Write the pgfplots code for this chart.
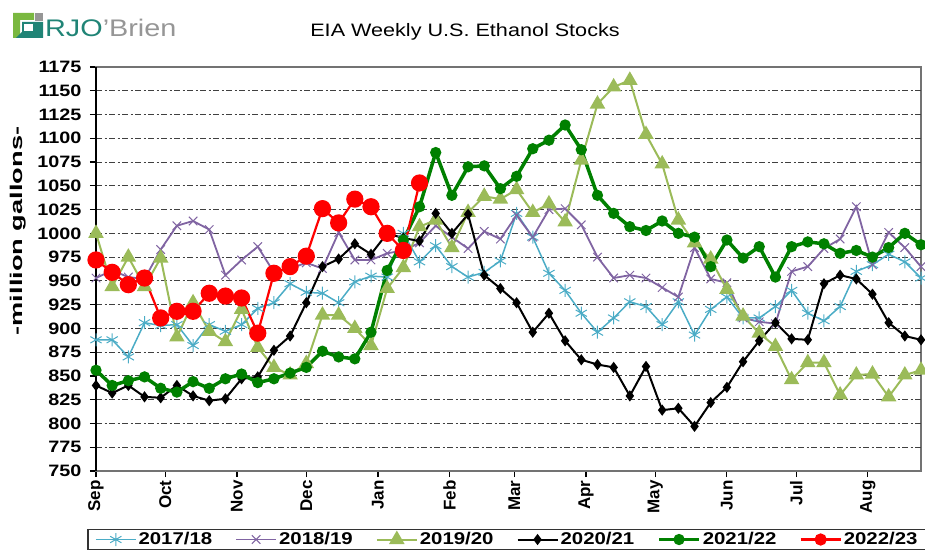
\documentclass[border=0pt]{standalone}
\usepackage{pgfplots}
\pgfplotsset{compat=1.18}
\usepackage{fontspec}
\setmainfont[FakeStretch=1.2]{Liberation Sans}
\newfontfamily\rotfont{Liberation Sans}
\newfontfamily\ylabfont[FakeStretch=1.6]{Liberation Sans}
\definecolor{cteal}{RGB}{75,172,198}
\definecolor{cpurple}{RGB}{128,100,162}
\definecolor{colive}{RGB}{155,187,89}
\definecolor{cgreen}{RGB}{0,128,0}
\definecolor{logogreen}{RGB}{122,184,64}
\definecolor{logoteal}{RGB}{32,132,118}
\definecolor{logogray}{RGB}{150,150,150}
\begin{document}
\begin{tikzpicture}[x=1pt,y=1pt]
\path[use as bounding box] (0,0) rectangle (925,551);
% logo
\fill[logogreen] (13,538) -- (34,538) -- (34,531) -- (20,531) -- (20,513) -- (13,513) -- cycle;
\fill[logogray] (35,538) rectangle (43,530);
\fill[logoteal] (22,529) -- (43,529) -- (43,513) -- (16,513) -- (22,519) -- cycle;
\fill[white] (24,527) rectangle (33,520);
\node[anchor=west, inner sep=0, font=\fontsize{24}{26}\selectfont] at (45,523) {\textcolor{logoteal}{RJO}\textcolor{logogray}{'Brien}};
% title
\node[font=\fontsize{18}{20}\selectfont] at (465,519) {EIA Weekly U.S. Ethanol Stocks};
% y label
\node[rotate=90, font=\ylabfont\bfseries\fontsize{17}{20}\selectfont] at (18,320) {-million gallons-};
\begin{axis}[
  at={(96pt,80pt)}, anchor=south west,
  scale only axis, width=825pt, height=404pt,
  xmin=0, xmax=51, ymin=750, ymax=1175,
  clip=false,
  axis line style={draw=black!55, line width=1.2pt},
  tick align=outside, major tick length=6pt,
  xtick pos=left, ytick pos=left,
  tick style={black, line width=1.2pt},
  ytick={750,775,...,1175},
  extra y ticks={775,800,...,1150},
  extra y tick labels={},
  extra y tick style={grid=major, major tick length=0pt},
  grid style={black!75, line width=1.1pt, dash pattern=on 6pt off 2.5pt on 2pt off 2.5pt},
  xtick={0,4.2857,8.7143,13,17.4286,21.8571,25.8571,30.2857,34.5714,39,43.2857,47.7143},
  xticklabels={Sep,Oct,Nov,Dec,Jan,Feb,Mar,Apr,May,Jun,Jul,Aug},
  xticklabel style={rotate=90, anchor=east, font=\rotfont\bfseries\fontsize{17}{20}\selectfont},
  yticklabel style={font=\bfseries\fontsize{16.5}{18}\selectfont, xshift=-5pt},
  /pgf/number format/assume math mode=true,
  /pgf/number format/1000 sep={},
  legend columns=6,
  legend style={at={(0.4985,-0.1696)}, anchor=center, draw=black!80, line width=1.2pt,
    font=\bfseries\fontsize{17}{19}\selectfont,
    /tikz/every even column/.append style={column sep=21pt},
    inner xsep=7pt, inner ysep=1pt},
  legend image code/.code={\draw[mark repeat=2,mark phase=2] plot coordinates {(0pt,0pt)(20pt,0pt)(40pt,0pt)};},
]
\draw[black, line width=1.4pt] (rel axis cs:0,0) -- (rel axis cs:0,1);
\addplot[color=cteal, line width=1.5pt, mark=asterisk, mark size=6.5pt, mark options={line width=1pt}] coordinates {
(0,888)(1,888)(2,870)(3,906)(4,903)(5,904)(6,882)(7,904)(8,897)(9,904)
(10,921)(11,927)(12,947)(13,938)(14,937)(15,927)(16,949)(17,955)(18,954)(19,1000)
(20,970)(21,987)(22,965)(23,954)(24,959)(25,971)(26,1021)(27,996)(28,958)(29,940)
(30,916)(31,896)(32,911)(33,928)(34,923)(35,904)(36,928)(37,893)(38,920)(39,933)
(40,911)(41,911)(42,923)(43,940)(44,916)(45,908)(46,923)(47,960)(48,967)(49,978)
(50,970)(51,953)};
\addlegendentry{2017/18}
\addplot[color=cpurple, line width=1.8pt, mark=x, mark size=6pt, mark options={line width=1pt}] coordinates {
(0,953)(1,961)(2,954)(3,952)(4,983)(5,1008)(6,1013)(7,1004)(8,956)(9,972)
(10,986)(11,959)(12,963)(13,969)(14,963)(15,1001)(16,972)(17,972)(18,979)(19,982)
(20,990)(21,1008)(22,996)(23,984)(24,1002)(25,994)(26,1019)(27,996)(28,1025)(29,1026)
(30,1009)(31,975)(32,953)(33,956)(34,953)(35,943)(36,933)(37,985)(38,952)(39,948)
(40,911)(41,907)(42,905)(43,960)(44,965)(45,984)(46,994)(47,1028)(48,967)(49,1001)
(50,985)(51,965)};
\addlegendentry{2018/19}
\addplot[color=colive, line width=2pt, mark=triangle*, mark size=7pt, mark options={fill=colive}] coordinates {
(0,1000)(1,944)(2,975)(3,944)(4,974)(5,891)(6,927)(7,897)(8,886)(9,920)
(10,880)(11,859)(12,851)(13,863)(14,914)(15,914)(16,900)(17,882)(18,942)(19,964)
(20,1007)(21,1014)(22,985)(23,1022)(24,1039)(25,1036)(26,1046)(27,1022)(28,1031)(29,1012)
(30,1077)(31,1136)(32,1154)(33,1161)(34,1104)(35,1073)(36,1014)(37,990)(38,973)(39,941)
(40,913)(41,895)(42,881)(43,846)(44,864)(45,864)(46,830)(47,851)(48,852)(49,828)
(50,851)(51,856)};
\addlegendentry{2019/20}
\addplot[color=black, line width=2pt, mark=diamond*, mark size=4pt] coordinates {
(0,840)(1,832)(2,840)(3,828)(4,827)(5,840)(6,829)(7,824)(8,826)(9,847)
(10,849)(11,877)(12,892)(13,927)(14,965)(15,973)(16,989)(17,978)(18,1000)(19,995)
(20,992)(21,1021)(22,1000)(23,1020)(24,956)(25,942)(26,927)(27,896)(28,916)(29,887)
(30,867)(31,862)(32,859)(33,829)(34,860)(35,814)(36,816)(37,797)(38,822)(39,838)
(40,865)(41,887)(42,906)(43,889)(44,888)(45,947)(46,956)(47,952)(48,936)(49,906)
(50,892)(51,888)};
\addlegendentry{2020/21}
\addplot[color=cgreen, line width=3.5pt, mark=*, mark size=3.8pt] coordinates {
(0,856)(1,840)(2,845)(3,849)(4,837)(5,833)(6,844)(7,837)(8,847)(9,852)
(10,843)(11,847)(12,853)(13,859)(14,876)(15,870)(16,868)(17,896)(18,961)(19,993)
(20,1028)(21,1085)(22,1040)(23,1070)(24,1071)(25,1047)(26,1060)(27,1089)(28,1098)(29,1114)
(30,1088)(31,1040)(32,1021)(33,1007)(34,1003)(35,1013)(36,1000)(37,996)(38,965)(39,993)
(40,974)(41,986)(42,954)(43,986)(44,991)(45,989)(46,979)(47,982)(48,975)(49,985)
(50,1000)(51,988)};
\addlegendentry{2021/22}
\addplot[color=red, line width=2.2pt, mark=*, mark size=7.5pt, legend image post style={mark size=5pt}] coordinates {
(0,972)(1,959)(2,946)(3,953)(4,911)(5,918)(6,918)(7,937)(8,934)(9,932)
(10,895)(11,958)(12,965)(13,976)(14,1026)(15,1011)(16,1036)(17,1028)(18,1000)(19,982)
(20,1053)};
\addlegendentry{2022/23}
\end{axis}
\end{tikzpicture}
\end{document}
